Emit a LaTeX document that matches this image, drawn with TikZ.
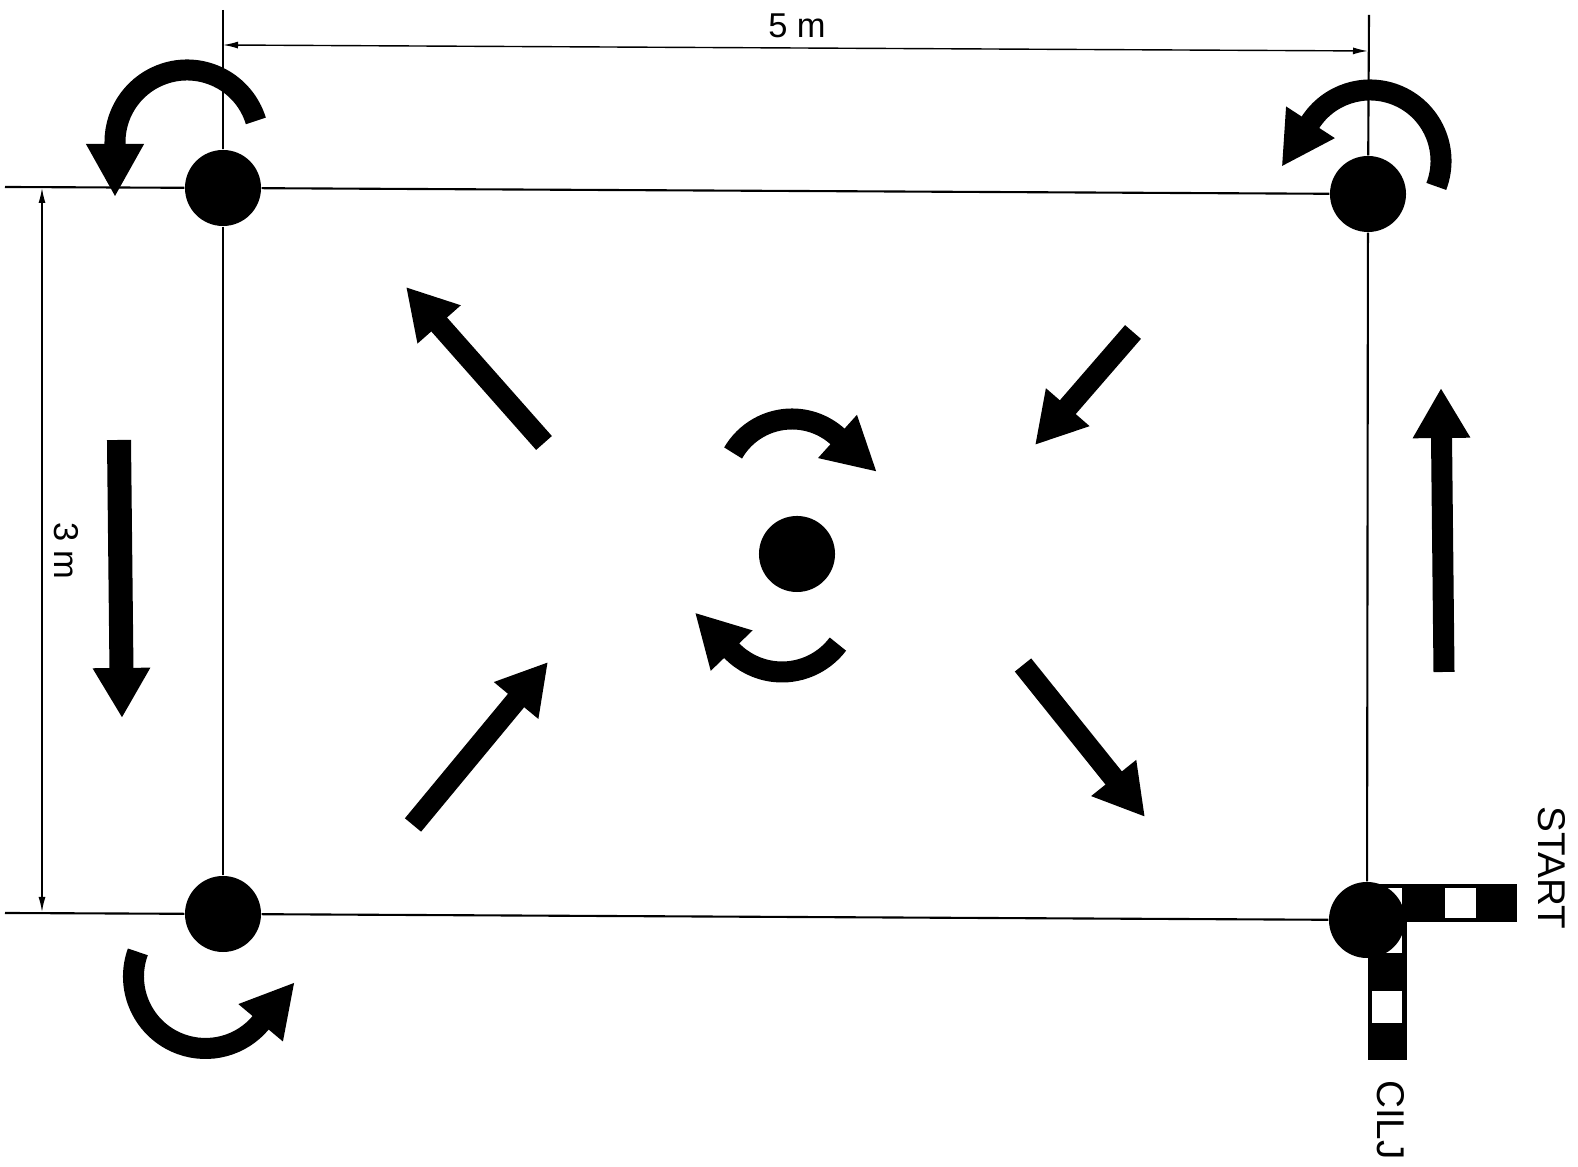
\documentclass[tikz,border=0pt]{standalone}
\usepackage{fontspec}
\setmainfont{Liberation Sans}
\usetikzlibrary{arrows.meta}

\begin{document}
\begin{tikzpicture}[x=0.01cm, y=0.01cm,
    cone/.style={circle, fill=black, minimum size=0.76cm, inner sep=0pt},
    fieldLine/.style={line width=0.6pt},
    dimLine/.style={line width=0.4pt, <->, >={Latex[length=1.5mm,width=0.7mm]}},
    moveArrow/.style={line width=0.21cm, -{Triangle[length=0.5cm,width=0.54cm]}},
    turnArrow/.style={line width=0.21cm, -{Triangle[length=0.53cm,width=0.54cm]}},
    dimLabel/.style={font=\fontsize{9.8}{12}\selectfont, inner sep=0pt},
    flagLabel/.style={font=\fontsize{11}{13}\selectfont, inner sep=0pt, rotate=-90}]

    \useasboundingbox (0,0) rectangle (1578,1167);

    % Draw the start / finish flags
    \fill[black] (1367,245) rectangle (1517,283);
    \fill[black] (1368,107) rectangle (1407,245);
    \fill[white] (1372,249) rectangle (1402,279);
    \fill[white] (1445,249) rectangle (1476,279);
    \fill[white] (1372,214) rectangle (1402,244);
    \fill[white] (1372,144) rectangle (1402,176);

    % Define the cones
    \node[cone] (coneTL) at (223,979) {};
    \node[cone] (coneTR) at (1368,973) {};
    \node[cone] (coneBL) at (223,253) {};
    \node[cone] (coneBR) at (1367,247) {};
    \node[cone] (centre) at (797,613) {};

    % Free ends of the field lines
    \coordinate (topEnd) at (5,980);
    \coordinate (bottomEnd) at (5,254);
    \coordinate (leftEnd) at (223,1157);
    \coordinate (rightEnd) at (1369,1152);

    % Draw the field
    \draw[fieldLine] (topEnd) -- (coneTL);
    \draw[fieldLine] (coneTL) -- (coneTR);
    \draw[fieldLine] (bottomEnd) -- (coneBL);
    \draw[fieldLine] (coneBL) -- (coneBR);
    \draw[fieldLine] (leftEnd) -- (coneTL);
    \draw[fieldLine] (coneTL) -- (coneBL);
    \draw[fieldLine] (rightEnd) -- (coneTR);
    \draw[fieldLine] (coneTR) -- (coneBR);

    % Draw dimensions
    \coordinate (widthL) at (223,1122);
    \coordinate (widthR) at (1368,1116);
    \coordinate (heightT) at (42,979);
    \coordinate (heightB) at (42,255);
    \draw[dimLine] (widthL) -- (widthR);
    \draw[dimLine] (heightT) -- (heightB);
    \node[dimLabel] (widthText) at (797,1141) {5 m};
    \node[dimLabel, rotate=-90] (heightText) at (66,616) {3 m};

    % Label start and finish
    \node[flagLabel] (startText) at (1552,299) {START};
    \node[flagLabel] (finishText) at (1391,47) {CILJ};

    % Draw the straight runs
    \draw[moveArrow, line width=0.24cm] (119,727) -- (122,449);
    \draw[moveArrow] (1444,495) -- (1441,779);
    \draw[moveArrow] (544,724) -- (406,880);
    \draw[moveArrow] (1133,835) -- (1035,722);
    \draw[moveArrow] (413,342) -- (548,505);
    \draw[moveArrow] (1023,502) -- (1145,350);

    % Draw the turns round the cones
    \draw[turnArrow] (187,1025) ++(17:72) arc[start angle=17, end angle=180, radius=72] -- ++(270:55);
    \draw[turnArrow] (1370,1006) ++(-21:71) arc[start angle=-21, end angle=147, radius=71] -- ++(237:53);
    \draw[turnArrow] (205.5,190.5) ++(160:72) arc[start angle=160, end angle=320, radius=72] -- ++(50:53);
    \draw[turnArrow] (792,680) ++(150:68) arc[start angle=150, end angle=48, radius=68] -- ++(-42:53);
    \draw[turnArrow] (782,565) ++(-37:70) arc[start angle=-37, end angle=-136, radius=70] -- ++(134:53);

\end{tikzpicture}
\end{document}
